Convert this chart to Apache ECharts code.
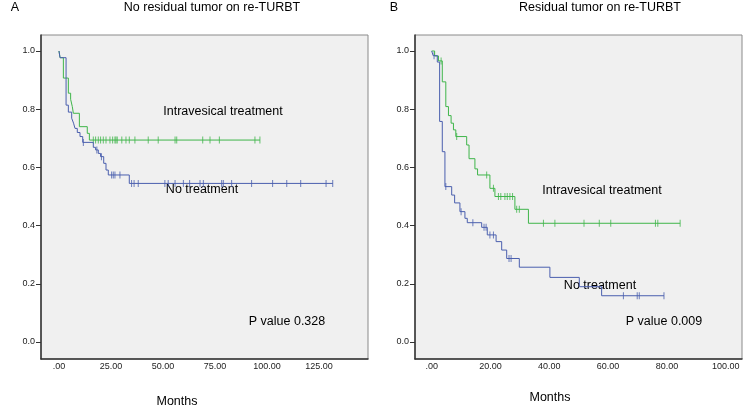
<!DOCTYPE html>
<html>
<head>
<meta charset="utf-8">
<script src="https://cdn.jsdelivr.net/npm/echarts@6/dist/echarts.min.js"></script>
<style>html,body{margin:0;padding:0;background:#fff;}#c{width:745px;height:408px;}</style>
</head>
<body>
<div id="c"></div>
<script>
// Panel A: No residual tumor on re-TURBT
const gA_t = [0, 0.5, 2.1, 4.5, 5.6, 6.4, 6.9, 9.8, 13.6, 14.6, 96.6];
const gA_s = [1.0, 0.977, 0.907, 0.855, 0.834, 0.809, 0.786, 0.74, 0.717, 0.694, 0.694];
const gA_c = [16.5, 17.6, 18.9, 20.0, 21.3, 22.6, 24.5, 25.8, 26.9, 27.4, 28.0, 30.2, 32.2, 33.8, 36.5, 42.9, 47.7, 55.8, 56.6, 69.1, 72.6, 77.1, 94.2, 96.6];
const bA_t = [0, 0.5, 3.4, 4.5, 6.1, 7.0, 7.7, 8.8, 10.1, 11.4, 16.5, 17.6, 18.9, 20.0, 21.5, 22.6, 23.7, 33.8, 131.6];
const bA_s = [1.0, 0.977, 0.814, 0.79, 0.769, 0.752, 0.734, 0.72, 0.706, 0.686, 0.669, 0.66, 0.648, 0.637, 0.614, 0.591, 0.574, 0.545, 0.545];
const bA_c = [11.7, 18.2, 20.4, 25.3, 26.1, 26.9, 29.3, 34.9, 36.1, 38.1, 50.9, 52.5, 55.8, 59.8, 62.8, 67.8, 69.4, 78.2, 79.0, 83.0, 92.6, 102.7, 109.5, 116.2, 128.4, 131.6];
// Panel B: Residual tumor on re-TURBT
const gB_t = [0, 1.0, 2.3, 3.6, 4.8, 5.7, 6.6, 7.4, 8.2, 11.9, 12.7, 14.7, 15.6, 19.8, 21.5, 28.3, 32.9, 84.5];
const gB_s = [1.0, 0.983, 0.966, 0.894, 0.809, 0.778, 0.752, 0.729, 0.706, 0.677, 0.63, 0.595, 0.574, 0.528, 0.5, 0.456, 0.408, 0.408];
const gB_c = [3.2, 8.5, 18.7, 21.0, 22.7, 23.5, 24.9, 25.7, 26.6, 27.5, 28.9, 29.8, 38.0, 41.9, 51.8, 57.0, 60.9, 76.1, 76.9, 84.5];
const bB_t = [0, 0.5, 1.9, 2.7, 3.6, 4.5, 6.8, 7.8, 9.6, 11.3, 12.1, 17.0, 18.9, 21.9, 23.8, 25.5, 29.8, 40.2, 50.2, 57.8, 79.0];
const bB_s = [1.0, 0.984, 0.962, 0.758, 0.654, 0.534, 0.505, 0.478, 0.448, 0.425, 0.41, 0.394, 0.368, 0.345, 0.316, 0.287, 0.257, 0.222, 0.19, 0.159, 0.159];
const bB_c = [0.8, 4.8, 10.0, 14.0, 17.8, 18.5, 19.8, 21.0, 26.3, 27.0, 65.2, 69.9, 70.6, 79.0];

const xTicksA = [0, 25, 50, 75, 100, 125];
const xTicksB = [0, 20, 40, 60, 80, 100];
const yTicks = [0, 0.2, 0.4, 0.6, 0.8, 1.0];

const GREEN = '#3fb54a';
const BLUE = '#4a5fae';
const FONT = '"Liberation Sans", Arial, sans-serif';

function survAt(ts, ss, time) {
  let v = ss[0];
  for (let i = 0; i < ts.length; i++) { if (ts[i] <= time) v = ss[i]; }
  return v;
}
function stepSeries(ts, ss, color, idx) {
  return { type: 'line', step: 'end', xAxisIndex: idx, yAxisIndex: idx, showSymbol: false,
    symbol: 'none', lineStyle: { color: color, width: 1 }, silent: true, animation: false,
    data: ts.map((t, i) => [t, ss[i]]) };
}
function censorSeries(ts, ss, cs, color, idx) {
  return { type: 'scatter', xAxisIndex: idx, yAxisIndex: idx, symbol: 'rect', symbolSize: [1, 7],
    itemStyle: { color: color }, silent: true, animation: false,
    data: cs.map(c => [c, survAt(ts, ss, c)]) };
}
function xAxis(idx, min, max, ticks) {
  return { type: 'value', gridIndex: idx, min: min, max: max,
    axisLine: { onZero: false, lineStyle: { color: '#333', width: 1.5 } },
    axisTick: { show: false }, splitLine: { show: false },
    axisLabel: { customValues: ticks, margin: 3, fontSize: 9, color: '#222', fontFamily: FONT,
      formatter: v => (v === 0 ? '.00' : v.toFixed(2)) } };
}
function yAxis(idx) {
  return { type: 'value', gridIndex: idx, min: -0.0584, max: 1.055,
    axisLine: { onZero: false, lineStyle: { color: '#333', width: 1.5 } },
    axisTick: { show: true, customValues: yTicks, length: 5, lineStyle: { color: '#333' } },
    splitLine: { show: false },
    axisLabel: { customValues: yTicks, margin: 6, fontSize: 9, color: '#222', fontFamily: FONT,
      formatter: v => v.toFixed(1) } };
}
function txt(x, y, s, size, extra) {
  return Object.assign({ type: 'text', x: x, y: y, silent: true,
    style: { text: s, fontSize: size, fontFamily: FONT, fill: '#000', align: 'center', verticalAlign: 'middle' } }, extra || {});
}

const chart = echarts.init(document.getElementById('c'), null, { renderer: 'canvas' });
chart.setOption({
  animation: false,
  backgroundColor: '#fff',
  grid: [
    { left: 41, top: 35, width: 327, height: 324, show: true, backgroundColor: '#f0f0f0', borderColor: '#8a8a8a', borderWidth: 1 },
    { left: 415, top: 35, width: 327, height: 324, show: true, backgroundColor: '#f0f0f0', borderColor: '#8a8a8a', borderWidth: 1 }
  ],
  xAxis: [xAxis(0, -8.65, 148.56, xTicksA), xAxis(1, -5.68, 105.54, xTicksB)],
  yAxis: [yAxis(0), yAxis(1)],
  series: [
    stepSeries(gA_t, gA_s, GREEN, 0), censorSeries(gA_t, gA_s, gA_c, GREEN, 0),
    stepSeries(bA_t, bA_s, BLUE, 0), censorSeries(bA_t, bA_s, bA_c, BLUE, 0),
    stepSeries(gB_t, gB_s, GREEN, 1), censorSeries(gB_t, gB_s, gB_c, GREEN, 1),
    stepSeries(bB_t, bB_s, BLUE, 1), censorSeries(bB_t, bB_s, bB_c, BLUE, 1)
  ],
  graphic: [
    txt(15, 8, 'A', 12.5),
    txt(212, 8, 'No residual tumor on re-TURBT', 12.5),
    txt(394, 8, 'B', 12.5),
    txt(600, 8, 'Residual tumor on re-TURBT', 12.5),
    txt(223, 112, 'Intravesical treatment', 12.5),
    txt(202, 190, 'No treatment', 12.5),
    txt(287, 322, 'P value 0.328', 12.5),
    txt(602, 191, 'Intravesical treatment', 12.5),
    txt(600, 286, 'No treatment', 12.5),
    txt(664, 322, 'P value 0.009', 12.5),
    txt(177, 402, 'Months', 12.5),
    txt(550, 398, 'Months', 12.5),
    txt(15, 200, 'Cum Survival', 13.5, { rotation: Math.PI / 2, originX: 15, originY: 200 }),
    txt(389, 200, 'Cum Survival', 13.5, { rotation: Math.PI / 2, originX: 389, originY: 200 })
  ]
});
</script>
</body>
</html>
